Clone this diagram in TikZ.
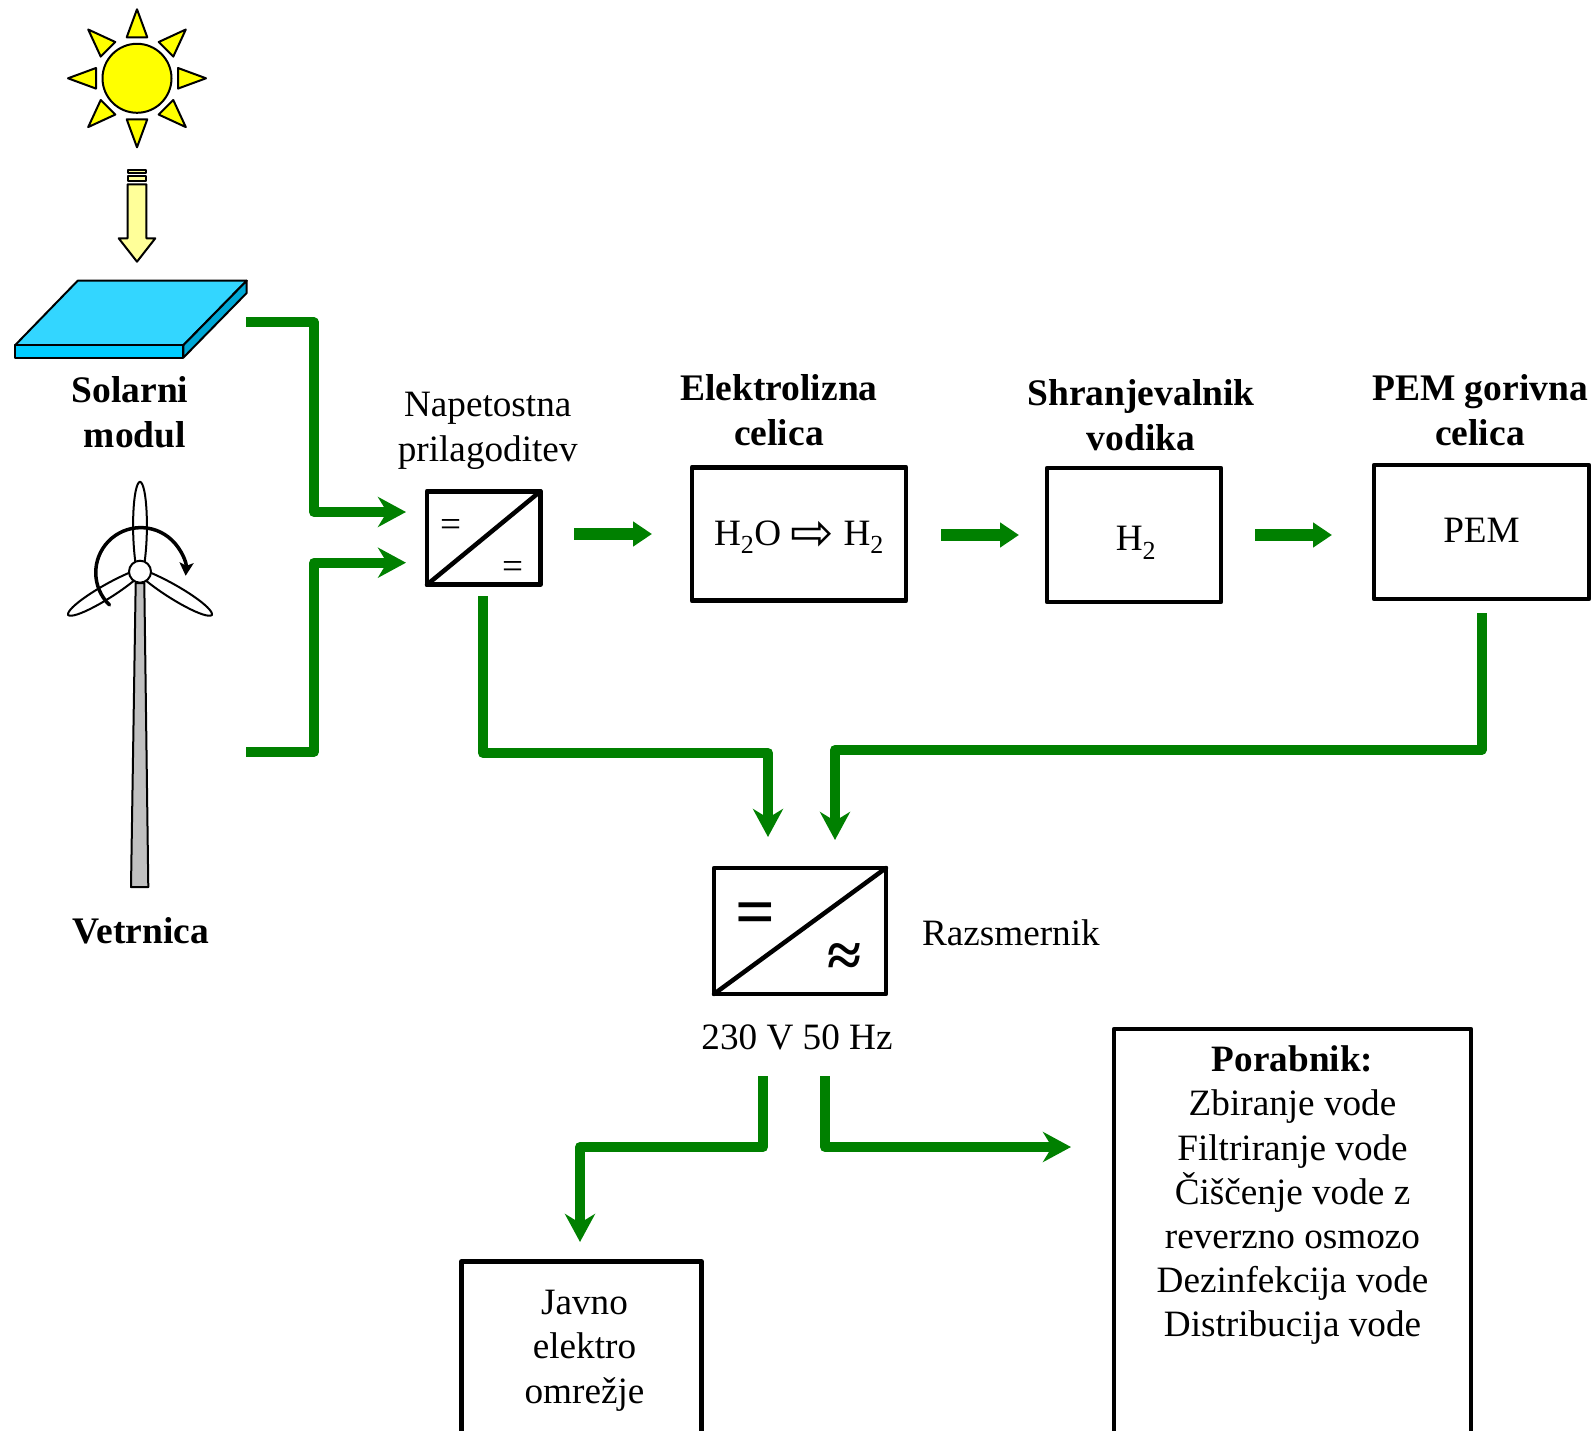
\documentclass[tikz,border=0pt]{standalone}
\usepackage{fontspec}
\setmainfont{Liberation Serif}
\newfontfamily\symfont{DejaVu Sans}
\usetikzlibrary{arrows.meta,positioning,calc}
\definecolor{FlowGreen}{HTML}{008000}
\definecolor{SunYellow}{HTML}{FFFF00}
\definecolor{RayYellow}{HTML}{FFFF99}
\definecolor{PanelTop}{HTML}{33D6FF}
\definecolor{PanelFront}{HTML}{00CCFF}
\definecolor{PanelSide}{HTML}{00A8D6}
\definecolor{TowerGray}{HTML}{C0C0C0}

\begin{document}
\begin{tikzpicture}[
    x=1pt, y=-1pt,
    font=\fontsize{37.2}{44.5}\selectfont,
    box/.style={draw=black, line width=4.8pt, line join=round, outer sep=0pt, inner sep=0pt, align=center},
    lbl/.style={align=center, inner sep=0pt, outer sep=0pt},
    head/.style={lbl, font=\fontsize{37.5}{45}\selectfont\bfseries},
    sign/.style={inner sep=0pt, outer sep=0pt},
    thin line/.style={draw=black, line width=2pt, line join=round},
    flow/.style={-{Stealth[length=28pt, width=30pt, inset=9pt]}, draw=FlowGreen, line width=10pt, line join=round},
    blockarr/.style={-{Triangle[length=19pt, width=24pt]}, draw=FlowGreen, line width=12.5pt}
]
\useasboundingbox (0,0) rectangle (1591,1431);

% sun with its eight rays
\begin{scope}[shift={(137,78.3)}]
    \foreach \a in {0,45,...,315}
        \draw[thin line, fill=SunYellow, rotate=\a] (0,-69) -- (10.3,-41) -- (-10.3,-41) -- cycle;
    \draw[thin line, fill=SunYellow] (0,0) circle[radius=34.5pt];
\end{scope}

% light falling on the panel
\draw[thin line, fill=RayYellow] (127.7,169.7) rectangle (146.3,173.3);
\draw[thin line, fill=RayYellow] (127.7,175.7) rectangle (146.3,181.3);
\draw[thin line, fill=RayYellow] (127.7,184.3) -- (146.3,184.3) -- (146.3,238.3) -- (155.3,238.3)
    -- (137,261.7) -- (118.7,238.3) -- (127.7,238.3) -- cycle;

% solar panel
\draw[thin line, fill=PanelTop] (77.7,280.7) -- (246.7,280.7) -- (183.3,345.3) -- (15,345.3) -- cycle;
\draw[thin line, fill=PanelFront] (15,345.3) rectangle (183.3,357.7);
\draw[thin line, fill=PanelSide] (246.7,280.7) -- (246.7,293) -- (183.3,357.7) -- (183.3,345.3) -- cycle;
\node[head] (solar) at (130,412.5) {Solarni\\\hspace*{10pt}modul};

% wind turbine
\draw[thin line, fill=TowerGray] (135.7,583) -- (144.3,583) -- (148.3,887) -- (131,887) -- cycle;
\begin{scope}[shift={(140,571.7)}]
    \foreach \a/\r in {0/90,121/84,-121/84}
        \draw[thin line, fill=white, rotate=\a] (-4.5,-9) .. controls (-9,-40) and (-7,-\r+2) .. (0,-\r)
            .. controls (7,-\r+2) and (9,-40) .. (4.5,-9) -- cycle;
    \draw[thin line, fill=white] (0,0) circle[radius=11pt];
\end{scope}
\draw[-{Stealth[length=13pt, width=14pt, inset=3pt]}, line width=3.5pt, line cap=round]
    (109.5,605) arc[start angle=226, end angle=-4, radius=45pt];
\node[head] (wind) at (141,931) {Vetrnica};

% converter chain
\node[box, minimum width=113.4pt, minimum height=93.4pt] (conv) at (483.7,538) {};
\node[box, right=151.6pt of conv, yshift=4pt, minimum width=214pt, minimum height=133.7pt, text height=22pt, text depth=0pt] (elec)
    {H\textsubscript{2}O {\symfont\fontsize{52}{52}\selectfont\raisebox{-5pt}{⇨}} H\textsubscript{2}};
\node[box, right=141pt of elec, yshift=-1pt, minimum width=174pt, minimum height=134pt, text height=31.4pt, text depth=0pt] (tank)
    {\hspace*{4pt}H\textsubscript{2}};
\node[box, right=153pt of tank, yshift=3pt, minimum width=215pt, minimum height=134pt, text height=21.4pt, text depth=0pt] (pem) {PEM};
\draw[line width=4.5pt, line cap=round] (conv.south west) -- (conv.north east);
\node[sign] (eqin) at (450.7,528) {=};
\node[sign] (eqout) at (512.7,570) {=};

\node[lbl, above=22pt of conv, xshift=4pt] (convlbl) {Napetostna\\prilagoditev};
\node[head, above=21pt of elec, xshift=-20pt] (eleclbl) {Elektrolizna\\celica};
\node[head, above=17.5pt of tank, xshift=7pt] (tanklbl) {Shranjevalnik\\vodika};
\node[head, above=19pt of pem, xshift=-1.5pt] (pemlbl) {PEM gorivna\\celica};

% inverter and its loads
\node[box, minimum width=172pt, minimum height=126pt] (inv) at (800,931) {};
\draw[line width=4.5pt, line cap=round] (inv.south west) -- (inv.north east);
\node[sign, font=\fontsize{70}{70}\selectfont\bfseries] (eqdc) at (755.5,919) {=};
\node[sign, font=\fontsize{62}{62}\selectfont\bfseries] (wave) at (845,960) {≈};
\node[lbl, right=36pt of inv, yshift=-2pt] (invlbl) {Razsmernik};
\node[lbl, below=31pt of inv, xshift=-3pt] (acout) {230 V 50 Hz};

\node[box, anchor=north, minimum width=240.4pt, minimum height=300pt] (grid) at (581.5,1261.7) {};
\node[lbl, below=28pt of grid.north, xshift=3pt] (gridlbl) {Javno\\elektro\\omrežje};
\node[box, anchor=north, minimum width=357pt, inner ysep=17pt, text depth=500pt, font=\fontsize{37.2}{44.1}\selectfont] (user) at (1292.5,1029)
    {\textbf{Porabnik:}\\Zbiranje vode\\Filtriranje vode\\Čiščenje vode z\\reverzno osmozo\\Dezinfekcija vode\\Distribucija vode};

% free ends at the sources
\coordinate (panelout) at (246,322.5);
\coordinate (towerout) at (246,751.7);

% feeds into the voltage stage
\draw[flow, shorten >=21pt] (panelout) -- ++(68,0) |- ($(conv.west)+(0,-26)$);
\draw[flow, shorten >=21pt] (towerout) -- ++(68,0) |- ($(conv.west)+(0,24.7)$);

% hydrogen chain
\draw[blockarr, shorten <=33.6pt, shorten >=40pt] (conv.east |- elec.west) -- (elec.west);
\draw[blockarr, shorten <=35pt, shorten >=28pt] (elec.east |- tank.west) -- (tank.west);
\draw[blockarr, shorten <=34pt, shorten >=42pt] (tank.east) -- (tank.east -| pem.west);

% both sources into the inverter
\draw[flow, shorten <=11.3pt, shorten >=31pt] ($(conv.south)+(-0.7,0)$) -- ++(0,168.3) -| ($(inv.north)+(-32,0)$);
\draw[flow, shorten <=14pt, shorten >=28pt] (pem.south) -- ++(0,151) -| ($(inv.north)+(35,0)$);

% inverter outputs
\draw[flow, shorten <=82pt, shorten >=19.7pt] ($(inv.south)+(-37,0)$) -- ++(0,153) -| ($(grid.north)+(-1.5,0)$);
\draw[flow, shorten <=82pt, shorten >=43pt] ($(inv.south)+(25,0)$) |- ($(user.north west)+(0,118)$);
\end{tikzpicture}
\end{document}
